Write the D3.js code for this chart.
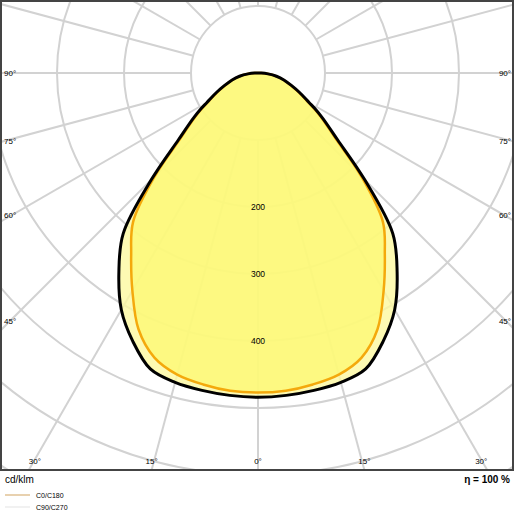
<!DOCTYPE html>
<html><head><meta charset="utf-8">
<script src="https://cdn.jsdelivr.net/npm/d3@7"></script>
<style>body{margin:0;background:#fff}svg{font-family:"Liberation Sans",Arial,sans-serif}</style>
</head><body><svg id="c" width="515" height="515"></svg>
<script>
// gamma angles (deg from nadir) and intensities in cd/klm
const angles = [0, 5, 10, 15, 20, 25, 30, 35, 40, 45, 50, 55, 58, 60, 65, 70, 75, 80, 85, 90];
const c0c180 = [477, 476, 472, 466, 452, 422, 375, 330, 290, 218, 150, 115, 97, 86, 66, 51, 39, 27, 14, 4];
const c90c270 = [484, 483, 481, 478, 470, 442, 408, 362, 313, 225, 155, 118, 100, 88, 68, 52, 40, 28, 15, 5];
const ringValues = [100, 200, 300, 400, 500, 600, 700, 800];
const ringLabels = [200, 300, 400];
const sideLabels = [[90, 76], [75, 144], [60, 218], [45, 324]];
const bottomLabels = [30, 15, 0];

const svg = d3.select("#c");
const cx = 258, cy = 73, box = {x: 1, y: 1, w: 512, h: 469};
const r = d3.scaleLinear().domain([0, 100]).range([0, 67]);

svg.append("clipPath").attr("id", "clip").append("rect")
  .attr("x", box.x).attr("y", box.y).attr("width", box.w).attr("height", box.h);
const g = svg.append("g").attr("clip-path", "url(#clip)");

// radial grid lines every 15 deg, starting at the 100 ring
for (let a = 0; a < 360; a += 15) {
  const t = a * Math.PI / 180;
  g.append("line")
    .attr("x1", cx + r(100) * Math.sin(t)).attr("y1", cy + r(100) * Math.cos(t))
    .attr("x2", cx + r(900) * Math.sin(t)).attr("y2", cy + r(900) * Math.cos(t))
    .attr("stroke", "#d2d2d2").attr("stroke-width", 2);
}
g.selectAll("circle.ring").data(ringValues).join("circle")
  .attr("cx", cx).attr("cy", cy).attr("r", d => r(d))
  .attr("fill", "none").attr("stroke", "#d2d2d2").attr("stroke-width", 2);

function shape(vals) {
  const pts = [];
  angles.forEach((a, i) => pts.push([Math.PI - a * Math.PI / 180, r(vals[i])]));
  for (let i = angles.length - 1; i > 0; i--) pts.push([Math.PI + angles[i] * Math.PI / 180, r(vals[i])]);
  return d3.lineRadial().curve(d3.curveCatmullRomClosed.alpha(0.5))(pts);
}
const plot = g.append("g").attr("transform", `translate(${cx},${cy})`);
plot.append("path").attr("d", shape(c90c270)).attr("fill", "#fdf9a0").attr("fill-opacity", 0.8);
plot.append("path").attr("d", shape(c0c180)).attr("fill", "#fcf870").attr("fill-opacity", 0.75);
plot.append("path").attr("d", shape(c0c180)).attr("fill", "none").attr("stroke", "#f4a90c").attr("stroke-width", 2.5);
plot.append("path").attr("d", shape(c90c270)).attr("fill", "none").attr("stroke", "#000").attr("stroke-width", 3);

svg.append("rect").attr("x", box.x).attr("y", box.y).attr("width", box.w).attr("height", box.h)
  .attr("fill", "none").attr("stroke", "#444").attr("stroke-width", 2);

// labels
svg.selectAll("text.ring").data(ringLabels).join("text")
  .attr("x", cx).attr("y", d => cy + r(d) + 3).attr("text-anchor", "middle")
  .attr("font-size", 8.5).text(d => d);
sideLabels.forEach(([a, y]) => {
  svg.append("text").attr("x", 4).attr("y", y).attr("font-size", 8).text(a + "°");
  svg.append("text").attr("x", 511).attr("y", y).attr("text-anchor", "end").attr("font-size", 8).text(a + "°");
});
bottomLabels.forEach(a => {
  const dx = (box.y + box.h - cy) * Math.tan(a * Math.PI / 180);
  const off = a === 30 ? 6 : 0;
  [-1, 1].forEach(s => {
    if (a === 0 && s === 1) return;
    svg.append("text").attr("x", cx + s * (dx - off)).attr("y", 464)
      .attr("text-anchor", "middle").attr("font-size", 8).text(a + "°");
  });
});
svg.append("text").attr("x", 5).attr("y", 483).attr("font-size", 10).text("cd/klm");
svg.append("text").attr("x", 510).attr("y", 483).attr("text-anchor", "end").attr("font-size", 10).attr("font-weight", "bold").text("η = 100 %");
const legend = [["C0/C180", "#d9b27a"], ["C90/C270", "#e8e8e8"]];
legend.forEach(([name, col], i) => {
  const y = 495 + i * 12;
  svg.append("line").attr("x1", 5).attr("x2", 30).attr("y1", y).attr("y2", y).attr("stroke", col).attr("stroke-width", 1.2);
  svg.append("text").attr("x", 36).attr("y", y + 3).attr("font-size", 7).text(name);
});
</script></body></html>
